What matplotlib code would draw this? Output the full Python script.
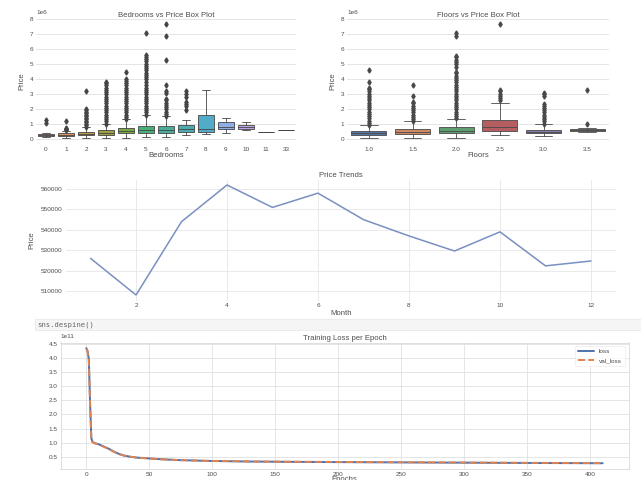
import colorsys
import numpy as np
import matplotlib
matplotlib.use("Agg")
import matplotlib.pyplot as plt
import matplotlib.patches as mpatches
import seaborn as sns

# ---------------- data ----------------
bed_labels = ["0", "1", "2", "3", "4", "5", "6", "7", "8", "9", "10", "11", "33"]
bed_q1 = [0.24, 0.22, 0.28, 0.30, 0.39, 0.44, 0.44, 0.50, 0.52, 0.67, 0.66, 0.52, 0.64]
bed_med = [0.29, 0.32, 0.37, 0.41, 0.55, 0.62, 0.65, 0.72, 0.70, 0.82, 0.80, 0.52, 0.64]
bed_q3 = [0.33, 0.41, 0.51, 0.60, 0.77, 0.92, 0.92, 0.95, 1.65, 1.15, 0.95, 0.52, 0.64]
bed_wlo = [0.14, 0.08, 0.08, 0.08, 0.10, 0.13, 0.18, 0.28, 0.34, 0.45, 0.65, 0.52, 0.64]
bed_whi = [0.45, 0.58, 0.85, 1.05, 1.35, 1.65, 1.55, 1.28, 3.30, 1.40, 1.15, 0.52, 0.64]
bed_fliers = [
    [1.1, 1.3],
    [0.62, 0.66, 0.7, 0.75, 1.25],
    [0.85, 0.95, 1.05, 1.15, 1.25, 1.35, 1.45, 1.55, 1.65, 1.75, 1.85, 1.95, 2.05, 3.25],
    [1.05, 1.2, 1.35, 1.5, 1.65, 1.8, 1.95, 2.1, 2.25, 2.4, 2.55, 2.7, 2.85, 3.0, 3.15,
     3.3, 3.45, 3.6, 3.75, 3.85],
    [1.35, 1.5, 1.65, 1.8, 1.95, 2.1, 2.25, 2.4, 2.55, 2.7, 2.85, 3.0, 3.15, 3.3, 3.45,
     3.6, 3.75, 3.9, 4.05, 4.5],
    [1.65, 1.8, 1.95, 2.1, 2.25, 2.4, 2.55, 2.7, 2.85, 3.0, 3.15, 3.3, 3.45, 3.6, 3.8,
     4.0, 4.15, 4.3, 4.45, 4.6, 4.75, 4.9, 5.05, 5.2, 5.35, 5.5, 5.6, 7.06],
    [1.55, 1.7, 1.85, 2.0, 2.15, 2.3, 2.45, 2.6, 2.7, 3.1, 3.2, 3.6, 5.3, 6.9, 7.7],
    [1.95, 2.2, 2.35, 2.5, 2.85, 3.05, 3.2],
    [], [], [], [], [],
]

floor_labels = ["1.0", "1.5", "2.0", "2.5", "3.0", "3.5"]
floor_q1 = [0.29, 0.38, 0.42, 0.56, 0.40, 0.53]
floor_med = [0.39, 0.52, 0.54, 0.80, 0.49, 0.60]
floor_q3 = [0.55, 0.71, 0.80, 1.31, 0.62, 0.68]
floor_wlo = [0.075, 0.09, 0.09, 0.26, 0.21, 0.47]
floor_whi = [0.93, 1.20, 1.38, 2.40, 1.03, 0.78]
floor_fliers = [
    [0.95, 1.1, 1.25, 1.4, 1.55, 1.7, 1.85, 2.0, 2.15, 2.3, 2.45, 2.6, 2.75, 2.9, 3.05,
     3.2, 3.35, 3.45, 3.8, 4.65],
    [1.2, 1.35, 1.5, 1.65, 1.8, 1.95, 2.1, 2.25, 2.4, 2.5, 2.9, 3.65],
    [1.4, 1.55, 1.7, 1.85, 2.0, 2.15, 2.3, 2.45, 2.6, 2.75, 2.9, 3.05, 3.2, 3.35, 3.5,
     3.65, 3.8, 3.95, 4.1, 4.25, 4.4, 4.5, 4.85, 5.0, 5.15, 5.3, 5.45, 5.55, 6.9, 7.06],
    [2.6, 2.75, 2.9, 3.05, 3.2, 3.3, 7.7],
    [1.05, 1.2, 1.35, 1.5, 1.65, 1.8, 1.95, 2.1, 2.25, 2.35, 2.9, 3.0, 3.1],
    [1.05, 3.3],
]

months = [1, 2, 3, 4, 5, 6, 7, 8, 9, 10, 11, 12]
month_price = [526000, 508000, 544000, 562000, 551000, 558000, 545000, 537000,
               529600, 539000, 522300, 524700]

epochs = [0, 1, 2, 3, 4, 5, 7, 10, 14, 18, 22, 26, 30, 35, 40, 50, 60, 75, 100,
          130, 160, 200, 250, 300, 350, 410]
loss = [4.35, 4.25, 3.95, 2.40, 1.15, 1.02, 0.98, 0.94, 0.86, 0.78, 0.68, 0.60, 0.54,
        0.50, 0.47, 0.44, 0.41, 0.38, 0.35, 0.33, 0.32, 0.31, 0.30, 0.29, 0.28, 0.27]
val_loss = [4.33, 4.22, 3.90, 2.30, 1.12, 1.01, 0.97, 0.93, 0.85, 0.77, 0.67, 0.59, 0.54,
            0.50, 0.47, 0.44, 0.41, 0.38, 0.35, 0.335, 0.325, 0.315, 0.305, 0.295, 0.285, 0.275]

# ---------------- style ----------------
sns.set_style("whitegrid")
plt.rcParams["font.family"] = ["Liberation Sans", "DejaVu Sans"]
plt.rcParams["axes.edgecolor"] = "0.85"
TXT = "0.3"
TICK = 4.6
LAB = 5.6

W, H = 641, 480
fig = plt.figure(figsize=(W / 100, H / 100), dpi=100)


def rect(l, t, r, b):
    return [l / W, 1 - b / H, (r - l) / W, (b - t) / H]


def draw_box(ax, labels, q1, med, q3, wlo, whi, fliers, colors, title, xlabel):
    colors = [sns.desaturate(c, 0.75) for c in colors]
    lum = min(colorsys.rgb_to_hls(*c)[1] for c in colors) * 0.6
    gray = (lum, lum, lum)
    stats = []
    for i in range(len(labels)):
        stats.append(dict(med=med[i] * 1e6, q1=q1[i] * 1e6, q3=q3[i] * 1e6,
                          whislo=wlo[i] * 1e6, whishi=whi[i] * 1e6,
                          fliers=np.array(fliers[i]) * 1e6))
    pos = list(range(len(labels)))
    bp = ax.bxp(stats, positions=pos, widths=0.8, patch_artist=True,
                boxprops=dict(edgecolor=gray, linewidth=0.6),
                medianprops=dict(color=gray, linewidth=0.6),
                whiskerprops=dict(color=gray, linewidth=0.6),
                capprops=dict(color=gray, linewidth=0.6),
                flierprops=dict(marker="d", markerfacecolor=gray, markeredgecolor=gray,
                                markersize=2.6, linestyle="none"))
    for patch, c in zip(bp["boxes"], colors):
        patch.set_facecolor(c)
    ax.set_xticks(pos)
    ax.set_xticklabels(labels)
    ax.set_xlim(-0.5, len(labels) - 0.5)
    ax.set_ylim(-0.31e6, 8.08e6)
    ax.set_yticks(np.arange(0, 9) * 1e6)
    ax.xaxis.grid(False)
    ax.yaxis.grid(True, color="0.88", linewidth=0.6)
    for s in ax.spines.values():
        s.set_visible(False)
    ax.tick_params(labelsize=TICK, colors=TXT, pad=2, length=0)
    ax.yaxis.get_offset_text().set_fontsize(TICK)
    ax.yaxis.get_offset_text().set_color(TXT)
    ax.set_title(title, fontsize=LAB, color=TXT, pad=1)
    ax.set_xlabel(xlabel, fontsize=LAB, color=TXT, labelpad=0)
    ax.set_ylabel("Price", fontsize=LAB, color=TXT, labelpad=3)


ax1 = fig.add_axes(rect(36, 18, 296, 144))
draw_box(ax1, bed_labels, bed_q1, bed_med, bed_q3, bed_wlo, bed_whi, bed_fliers,
         sns.husl_palette(len(bed_labels), l=0.7), "Bedrooms vs Price Box Plot", "Bedrooms")

ax2 = fig.add_axes(rect(347, 18, 609, 144))
draw_box(ax2, floor_labels, floor_q1, floor_med, floor_q3, floor_wlo, floor_whi,
         floor_fliers, sns.color_palette("deep", len(floor_labels)),
         "Floors vs Price Box Plot", "Floors")

# Price trends
ax3 = fig.add_axes(rect(65.5, 179.5, 616, 300.5))
ax3.plot(months, month_price, color="#7990c0", linewidth=1.1)
ax3.set_xlim(0.45, 12.55)
ax3.set_ylim(505300, 564700)
ax3.set_xticks([2, 4, 6, 8, 10, 12])
ax3.set_yticks([510000, 520000, 530000, 540000, 550000, 560000])
ax3.ticklabel_format(axis="y", useOffset=False, style="plain")
ax3.grid(True, color="0.9", linewidth=0.6)
for s in ax3.spines.values():
    s.set_visible(False)
ax3.tick_params(labelsize=TICK, colors=TXT, pad=2, length=0)
ax3.set_title("Price Trends", fontsize=LAB, color=TXT, pad=2)
ax3.set_xlabel("Month", fontsize=LAB, color=TXT, labelpad=1)
ax3.set_ylabel("Price", fontsize=LAB, color=TXT, labelpad=4)

# code cell strip
fig.patches.append(mpatches.Rectangle((35 / W, 1 - 330 / H), (W - 35) / W, 11 / H,
                                      transform=fig.transFigure, facecolor="#f5f5f5",
                                      edgecolor="#e6e6e6", linewidth=0.5))
fig.text(37 / W, 1 - 325 / H, "sns.despine()", fontsize=5.2, color="0.4",
         family="DejaVu Sans Mono", va="center", ha="left")

# Training loss
ax4 = fig.add_axes(rect(60.5, 342.5, 628.5, 469))
ax4.plot(epochs, np.array(loss) * 1e11, color="#4C72B0", linewidth=1.4, label="loss")
ax4.plot(epochs, np.array(val_loss) * 1e11, color="#DD8452", linewidth=1.4,
         linestyle="--", label="val_loss")
ax4.set_xlim(-20.5, 430.5)
ax4.set_ylim(0.066e11, 4.55e11)
ax4.set_xticks([0, 50, 100, 150, 200, 250, 300, 350, 400])
ax4.set_yticks(np.arange(0.5, 4.6, 0.5) * 1e11)
ax4.grid(True, color="0.88", linewidth=0.6)
for s in ax4.spines.values():
    s.set_color("0.85")
    s.set_linewidth(0.6)
ax4.tick_params(labelsize=TICK, colors=TXT, pad=2, length=0)
ax4.yaxis.get_offset_text().set_fontsize(TICK)
ax4.yaxis.get_offset_text().set_color(TXT)
ax4.set_title("Training Loss per Epoch", fontsize=LAB, color=TXT, pad=2)
ax4.set_xlabel("Epochs", fontsize=LAB, color=TXT, labelpad=-0.5)
leg = ax4.legend(loc="upper right", fontsize=TICK, frameon=True, handlelength=2.5,
                 borderpad=0.5, labelspacing=0.5)
leg.get_frame().set_edgecolor("0.9")
leg.get_frame().set_linewidth(0.5)
for t in leg.get_texts():
    t.set_color(TXT)

fig.savefig("out.png", dpi=100)
